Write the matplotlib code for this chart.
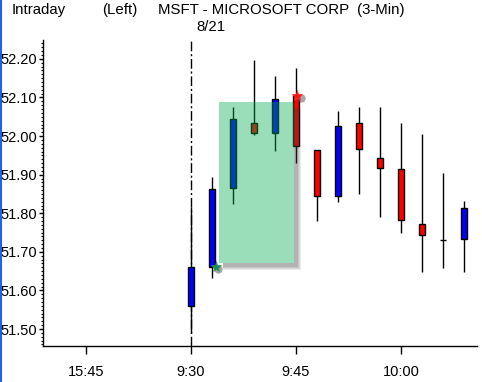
import numpy as np
import matplotlib
matplotlib.use("Agg")
import matplotlib.pyplot as plt
from matplotlib.patches import Rectangle
from matplotlib.lines import Line2D
from matplotlib.ticker import MultipleLocator, FixedLocator

plt.rcParams['font.family'] = ['Liberation Sans', 'DejaVu Sans']

# ---- data ----
times = ['9:30', '9:33', '9:36', '9:39', '9:42', '9:45', '9:48',
         '9:51', '9:54', '9:57', '10:00', '10:03', '10:06', '10:09']
opens  = [51.560, 51.662, 51.865, 52.034, 52.007, 52.106, 51.963,
          51.844, 52.033, 51.943, 51.915, 51.771, 51.730, 51.733]
highs  = [51.815, 51.895, 52.076, 52.197, 52.156, 52.176, 51.963,
          52.065, 52.076, 52.076, 52.034, 52.006, 51.904, 51.831]
lows   = [51.490, 51.631, 51.823, 52.004, 51.962, 51.931, 51.781,
          51.830, 51.851, 51.791, 51.750, 51.649, 51.659, 51.649]
closes = [51.660, 51.862, 52.044, 52.007, 52.095, 51.975, 51.844,
          52.025, 51.966, 51.917, 51.783, 51.743, 51.730, 51.813]
tick_idx = [-5, 0, 5, 10]
tick_labels = ['15:45', '9:30', '9:45', '10:00']
ytick_vals = [51.50, 51.60, 51.70, 51.80, 51.90, 52.00, 52.10, 52.20]
# highlighted pattern: from candle 1 (open) to candle 5 (open)
pat_start_idx, pat_start_price = 1, 51.662
pat_end_idx, pat_end_price = 5, 52.106
rect_x = (1.33, 4.90)
rect_y = (51.671, 52.089)

W, H = 482, 382
fig = plt.figure(figsize=(W / 100, H / 100), dpi=100)
ax = fig.add_axes([43 / W, (H - 346) / H, (477 - 43) / W, (346 - 40) / H])
ax.set_xlim(-7.05, 13.62)
ax.set_ylim(51.456, 52.249)

x = np.arange(len(times))
bw = 0.26
for i in x:
    o, h, l, c = opens[i], highs[i], lows[i], closes[i]
    ax.vlines(i, l, h, color='black', lw=1.0, zorder=2)
    if abs(c - o) < 0.002:
        ax.hlines(c, i - bw / 2, i + bw / 2, color='black', lw=1.0, zorder=3)
    else:
        col = '#0000FF' if c > o else '#FF0000'
        ax.add_patch(Rectangle((i - bw / 2, min(o, c)), bw, abs(c - o),
                               facecolor=col, edgecolor='black', lw=1.0, zorder=3))

# day separator
ax.axvline(0, color='black', lw=1.0, ls=(0, (7, 2, 1.5, 2)), zorder=1)

# shadow of highlight rectangle (L shaped, blurred)
dx, dy = 0.2, 0.011
for k, a in enumerate([0.10, 0.10, 0.12, 0.14]):
    g = (3 - k) * 0.05
    ax.add_patch(Rectangle((rect_x[1], rect_y[0] - dy - g * 0.05), dx + g, rect_y[1] - rect_y[0] - 0.004,
                           facecolor='#404040', edgecolor='none', alpha=a, zorder=3.5))
    ax.add_patch(Rectangle((rect_x[0] + dx, rect_y[0] - dy - g * 0.05), rect_x[1] - rect_x[0] - dx,
                           dy + g * 0.05, facecolor='#404040', edgecolor='none', alpha=a, zorder=3.5))
ax.add_patch(Rectangle((rect_x[0], rect_y[0]), rect_x[1] - rect_x[0], rect_y[1] - rect_y[0],
                       facecolor='#00AA50', edgecolor='none', alpha=0.4, zorder=4))

# pattern markers (with soft shadow)
ax.plot([pat_start_idx + 0.3], [pat_start_price - 0.006], 'o', ms=6, color='#505050', alpha=0.5,
        mec='none', zorder=4.5)
ax.plot([pat_start_idx + 0.2], [pat_start_price], '*', ms=8, color='#1E8A50', mec='#2E9A60',
        mew=0.5, zorder=5)
ax.plot([pat_end_idx + 0.25], [pat_end_price - 0.008], 'o', ms=6, color='#505050', alpha=0.5,
        mec='none', zorder=4.5)
ax.plot([pat_end_idx + 0.05], [pat_end_price - 0.003], '*', ms=8, color='#FF1010', mec='#FF3030',
        mew=0.5, zorder=5)

# axes styling
for s in ['top', 'right']:
    ax.spines[s].set_visible(False)
ax.spines['left'].set_linewidth(1.0)
ax.spines['bottom'].set_linewidth(1.0)
ax.xaxis.set_major_locator(FixedLocator(tick_idx))
ax.set_xticklabels(tick_labels)
ax.yaxis.set_major_locator(FixedLocator(ytick_vals))
ax.set_yticklabels([f'{v:.2f}' for v in ytick_vals])
ax.yaxis.set_minor_locator(MultipleLocator(0.01))
ax.tick_params(axis='x', direction='out', length=6, width=1, pad=8, labelsize=10.5)
ax.tick_params(axis='y', which='major', direction='out', length=3, width=1, pad=1, labelsize=10.5)
ax.tick_params(axis='y', which='minor', direction='out', length=1.5, width=0.8)

# titles
fs = 10.8
fig.text(12 / W, 1 - 10 / H, 'Intraday', fontsize=fs, va='center', ha='left')
fig.text(102 / W, 1 - 10 / H, '(Left)', fontsize=fs, va='center', ha='left')
fig.text(158 / W, 1 - 10 / H, 'MSFT - MICROSOFT CORP  (3-Min)', fontsize=fs, va='center', ha='left')
fig.text(211 / W, 1 - 27 / H, '8/21', fontsize=fs, va='center', ha='center')

# left blue border
fig.add_artist(Line2D([0.8 / W, 0.8 / W], [0, 1], color='#1E64E6', lw=1.5))

fig.savefig('out.png', dpi=100)
